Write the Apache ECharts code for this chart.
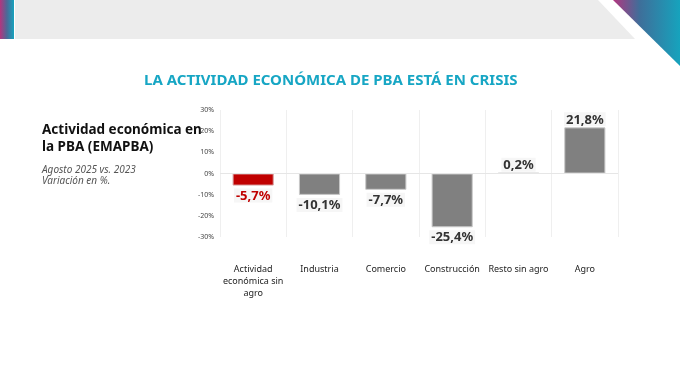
<!DOCTYPE html>
<html><head><meta charset="utf-8">
<script src="https://cdn.jsdelivr.net/npm/echarts@6/dist/echarts.min.js"></script>
<style>html,body{margin:0;padding:0;background:#fff}#c{width:680px;height:383px}</style>
</head><body><div id="c"></div>
<script>
const categories = ['Actividad\neconómica sin\nagro', 'Industria', 'Comercio', 'Construcción', 'Resto sin agro', 'Agro'];
const values = [-5.7, -10.1, -7.7, -25.4, 0.2, 21.8];
const highlightIndex = 0;
const yTicks = [-30, -20, -10, 0, 10, 20, 30];

const chart = echarts.init(document.getElementById('c'), null, {renderer: 'canvas'});
const fmt = v => (v < 0 ? '-' : '') + Math.abs(v).toFixed(1).replace('.', ',') + '%';

chart.setOption({
  animation: false,
  backgroundColor: '#fff',
  graphic: [
    {type: 'polygon', shape: {points: [[15,0],[598,0],[635,39],[15,39]]}, style: {fill: '#ececec'}, z: 0},
    {type: 'rect', shape: {x: 0, y: 0, width: 14, height: 39},
     style: {fill: new echarts.graphic.LinearGradient(0,0,1,0,[{offset:0,color:'#b3357f'},{offset:0.5,color:'#4a6a98'},{offset:1,color:'#16a3bd'}])}},
    {type: 'polygon', shape: {points: [[613,0],[680,0],[680,66]]},
     style: {fill: new echarts.graphic.LinearGradient(0,0,1,0,[{offset:0,color:'#b3357f'},{offset:0.4,color:'#3e6f9a'},{offset:1,color:'#16a3bd'}])}},
    {type: 'text', left: 144, top: 73,
     style: {text: 'LA ACTIVIDAD ECONÓMICA DE PBA ESTÁ EN CRISIS', fill: '#17a6c4', font: 'bold 15px "Noto Sans"'}},
    {type: 'text', left: 42, top: 122,
     style: {text: 'Actividad económica en\nla PBA (EMAPBA)', fill: '#111', font: 'bold 13.5px "Noto Sans"', lineHeight: 17}},
    {type: 'text', left: 42, top: 165,
     style: {text: 'Agosto 2025 vs. 2023\nVariación en %.', fill: '#555', font: 'italic 10px "Noto Sans"', lineHeight: 11}}
  ],
  grid: {left: 220, right: 62, top: 110, bottom: 146, containLabel: false},
  xAxis: {
    type: 'category', data: categories,
    axisLine: {show: false, onZero: false}, axisTick: {show: false},
    splitLine: {show: true, lineStyle: {color: '#efefef', width: 1}},
    axisLabel: {color: '#222', fontSize: 9, fontFamily: 'Noto Sans', lineHeight: 12, margin: 26, interval: 0}
  },
  yAxis: {
    type: 'value', min: -30, max: 30, interval: 10,
    axisLine: {show: false}, axisTick: {show: false}, splitLine: {show: false},
    axisLabel: {color: '#444', fontSize: 7, fontFamily: 'Noto Sans', margin: 6, formatter: v => v + '%'}
  },
  series: [{
    type: 'bar', barWidth: '62%',
    data: values.map((v, i) => ({
      value: v,
      itemStyle: {color: i === highlightIndex ? '#c00000' : '#808080', borderColor: i === highlightIndex ? '#d8a0a0' : '#c8c8c8', borderWidth: 1},
      label: {position: v < 0 ? 'bottom' : 'top', color: i === highlightIndex ? '#c00000' : '#333', distance: v < 0 ? 3 : 1}
    })),
    label: {show: true, formatter: p => fmt(p.value), fontSize: 13, fontWeight: 'bold', fontFamily: 'Noto Sans',
            backgroundColor: '#f6f6f6', padding: [1, 2, 0, 2]},
    markLine: {silent: true, symbol: 'none', label: {show: false},
               lineStyle: {color: '#e6e6e6', type: 'solid', width: 1}, data: [{yAxis: 0}]}
  }]
});
</script></body></html>
